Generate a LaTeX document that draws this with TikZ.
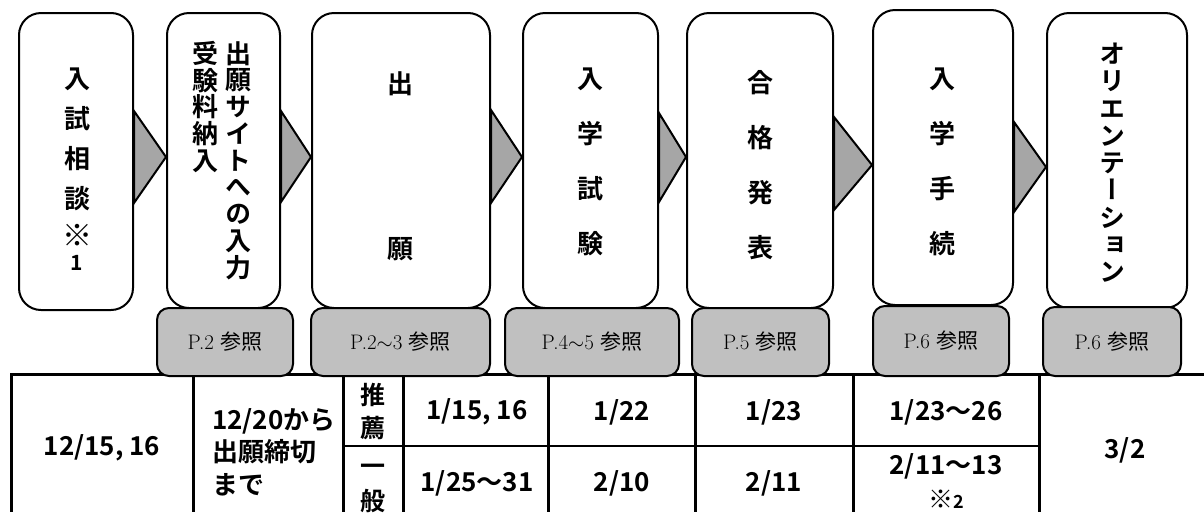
\documentclass[tikz,border=0pt]{standalone}
\usepackage{fontspec}
\newfontfamily\jpb{Noto Sans CJK JP Bold}
\newfontfamily\jpv{Noto Sans CJK JP Bold}[RawFeature=+vert]
\newfontfamily\jpr{Noto Sans CJK JP}
\usetikzlibrary{calc}
\definecolor{refgray}{HTML}{C0C0C0}
\definecolor{trigray}{HTML}{A6A6A6}
\begin{document}
\begin{tikzpicture}[x=1pt,y=-1pt,
  stepbox/.style={draw, line width=2pt, rounded corners=22pt, fill=white, inner sep=0pt, rectangle},
  refbox/.style={draw, line width=2pt, rounded corners=12pt, fill=refgray, inner sep=0pt, rectangle,
                 font=\fontsize{21pt}{21pt}\selectfont},
  tri/.style={draw, line width=2pt, fill=trigray, line join=miter},
  vtext/.style={anchor=north, inner sep=0pt, align=center},
  cell/.style={inner sep=0pt, font=\jpb\fontsize{26pt}{33pt}\selectfont},
  tline/.style={line width=3pt},
]
\useasboundingbox (0,0) rectangle (1204,512);

% step boxes
\node[stepbox, minimum width=114pt, minimum height=297pt] (b1) at (76,161.5) {};
\node[stepbox, minimum width=113pt, minimum height=295pt] (b2) at (223.5,160.5) {};
\node[stepbox, minimum width=178pt, minimum height=295pt] (b3) at (401,160.5) {};
\node[stepbox, minimum width=135pt, minimum height=295pt] (b4) at (590.5,160.5) {};
\node[stepbox, minimum width=146pt, minimum height=295pt] (b5) at (760,160.5) {};
\node[stepbox, minimum width=140pt, minimum height=295pt] (b6) at (943,157.5) {};
\node[stepbox, minimum width=140pt, minimum height=295pt] (b7) at (1117,160.5) {};

% texts in step boxes
\node[vtext, font=\jpb\fontsize{26pt}{40pt}\selectfont] (t1) at (77,68)
  {入\\試\\相\\談\\[-2pt]{\fontsize{30pt}{30pt}\selectfont ※}\\[-16pt]{\fontsize{21pt}{21pt}\selectfont 1}};
\node[vtext, font=\jpv\fontsize{26pt}{26.75pt}\selectfont] (t2a) at (238,41) {出\\願\\サ\\イ\\ト\\へ\\の\\入\\力};
\node[vtext, font=\jpv\fontsize{26pt}{26.75pt}\selectfont] (t2b) at (205,41) {受\\験\\料\\納\\入};
\node[vtext, font=\jpb\fontsize{26pt}{165pt}\selectfont] (t3) at (400,71) {出\\願};
\node[vtext, font=\jpb\fontsize{26pt}{55pt}\selectfont] (t4) at (590,68) {入\\学\\試\\験};
\node[vtext, font=\jpb\fontsize{26pt}{55pt}\selectfont] (t5) at (760,70) {合\\格\\発\\表};
\node[vtext, font=\jpb\fontsize{26pt}{55pt}\selectfont] (t6) at (942,68) {入\\学\\手\\続};
\node[vtext, font=\jpv\fontsize{26pt}{27.25pt}\selectfont] (t7) at (1112,43) {オ\\リ\\エ\\ン\\テ\\ー\\シ\\ョ\\ン};

% table lines
\draw[tline] (1204,374) -- (11.5,374) -- (11.5,512);
\foreach \xx in {193,343,403,548,695,853,1039}{
  \draw[tline] (\xx,374) -- (\xx,512);
}
\draw[line width=2.5pt] (343,446) -- (1039,446);

% table cells
\node[cell] (c1) at (102,448) {12/15, 16};
\node[cell, anchor=north west, align=left, font=\jpb\fontsize{26pt}{32.5pt}\selectfont] (c2) at (212,408) {12/20から\\出願締切\\まで};
\node[cell, align=center, font=\jpb\fontsize{25pt}{33pt}\selectfont] (c3a) at (373,411.5) {推\\薦};
\node[cell, anchor=north, align=center, font=\jpb\fontsize{25pt}{35pt}\selectfont] (c3b) at (373,454) {\vphantom{般}一\\般};
\node[cell] (c4a) at (477,412) {1/15, 16};
\node[cell] (c4b) at (477,483) {1/25〜31};
\node[cell] (c5a) at (622,412) {1/22};
\node[cell] (c5b) at (622,483) {2/10};
\node[cell] (c6a) at (774,412) {1/23};
\node[cell] (c6b) at (774,483) {2/11};
\node[cell] (c7a) at (946,412) {1/23〜26};
\node[cell] (c7b) at (946,466) {2/11〜13};
\node[cell, font=\jpb] (c7c) at (946,499) {{\fontsize{25pt}{25pt}\selectfont ※}{\fontsize{18pt}{18pt}\selectfont 2}};
\node[cell] (c8) at (1125,450) {3/2};

% reference boxes
\node[refbox, minimum width=136pt, minimum height=68pt] (r1) at (225,342) {P.2 {\jpr 参照}};
\node[refbox, minimum width=179pt, minimum height=68pt] (r2) at (400.5,342) {P.2$\sim$3 {\jpr 参照}};
\node[refbox, minimum width=174pt, minimum height=68pt] (r3) at (592,342) {P.4$\sim$5 {\jpr 参照}};
\node[refbox, minimum width=137pt, minimum height=68pt] (r4) at (760.5,342) {P.5 {\jpr 参照}};
\node[refbox, minimum width=136pt, minimum height=70pt] (r5) at (941,341) {P.6 {\jpr 参照}};
\node[refbox, minimum width=138pt, minimum height=69pt] (r6) at (1112,341.5) {P.6 {\jpr 参照}};

% arrows
\draw[tri] (b1.east |- 0,111) -- (b2.west |- 0,157) -- (b1.east |- 0,203) -- cycle;
\draw[tri] (b2.east |- 0,111) -- (b3.west |- 0,157) -- (b2.east |- 0,202) -- cycle;
\draw[tri] (b3.east |- 0,110) -- (b4.west |- 0,157) -- (b3.east |- 0,203) -- cycle;
\draw[tri] (b4.east |- 0,113) -- (b5.west |- 0,157) -- (b4.east |- 0,202) -- cycle;
\draw[tri] (b5.east |- 0,117) -- (b6.west |- 0,165) -- (b5.east |- 0,210) -- cycle;
\draw[tri] (b6.east |- 0,122) -- (b7.west |- 0,167) -- (b6.east |- 0,212) -- cycle;
\end{tikzpicture}
\end{document}
